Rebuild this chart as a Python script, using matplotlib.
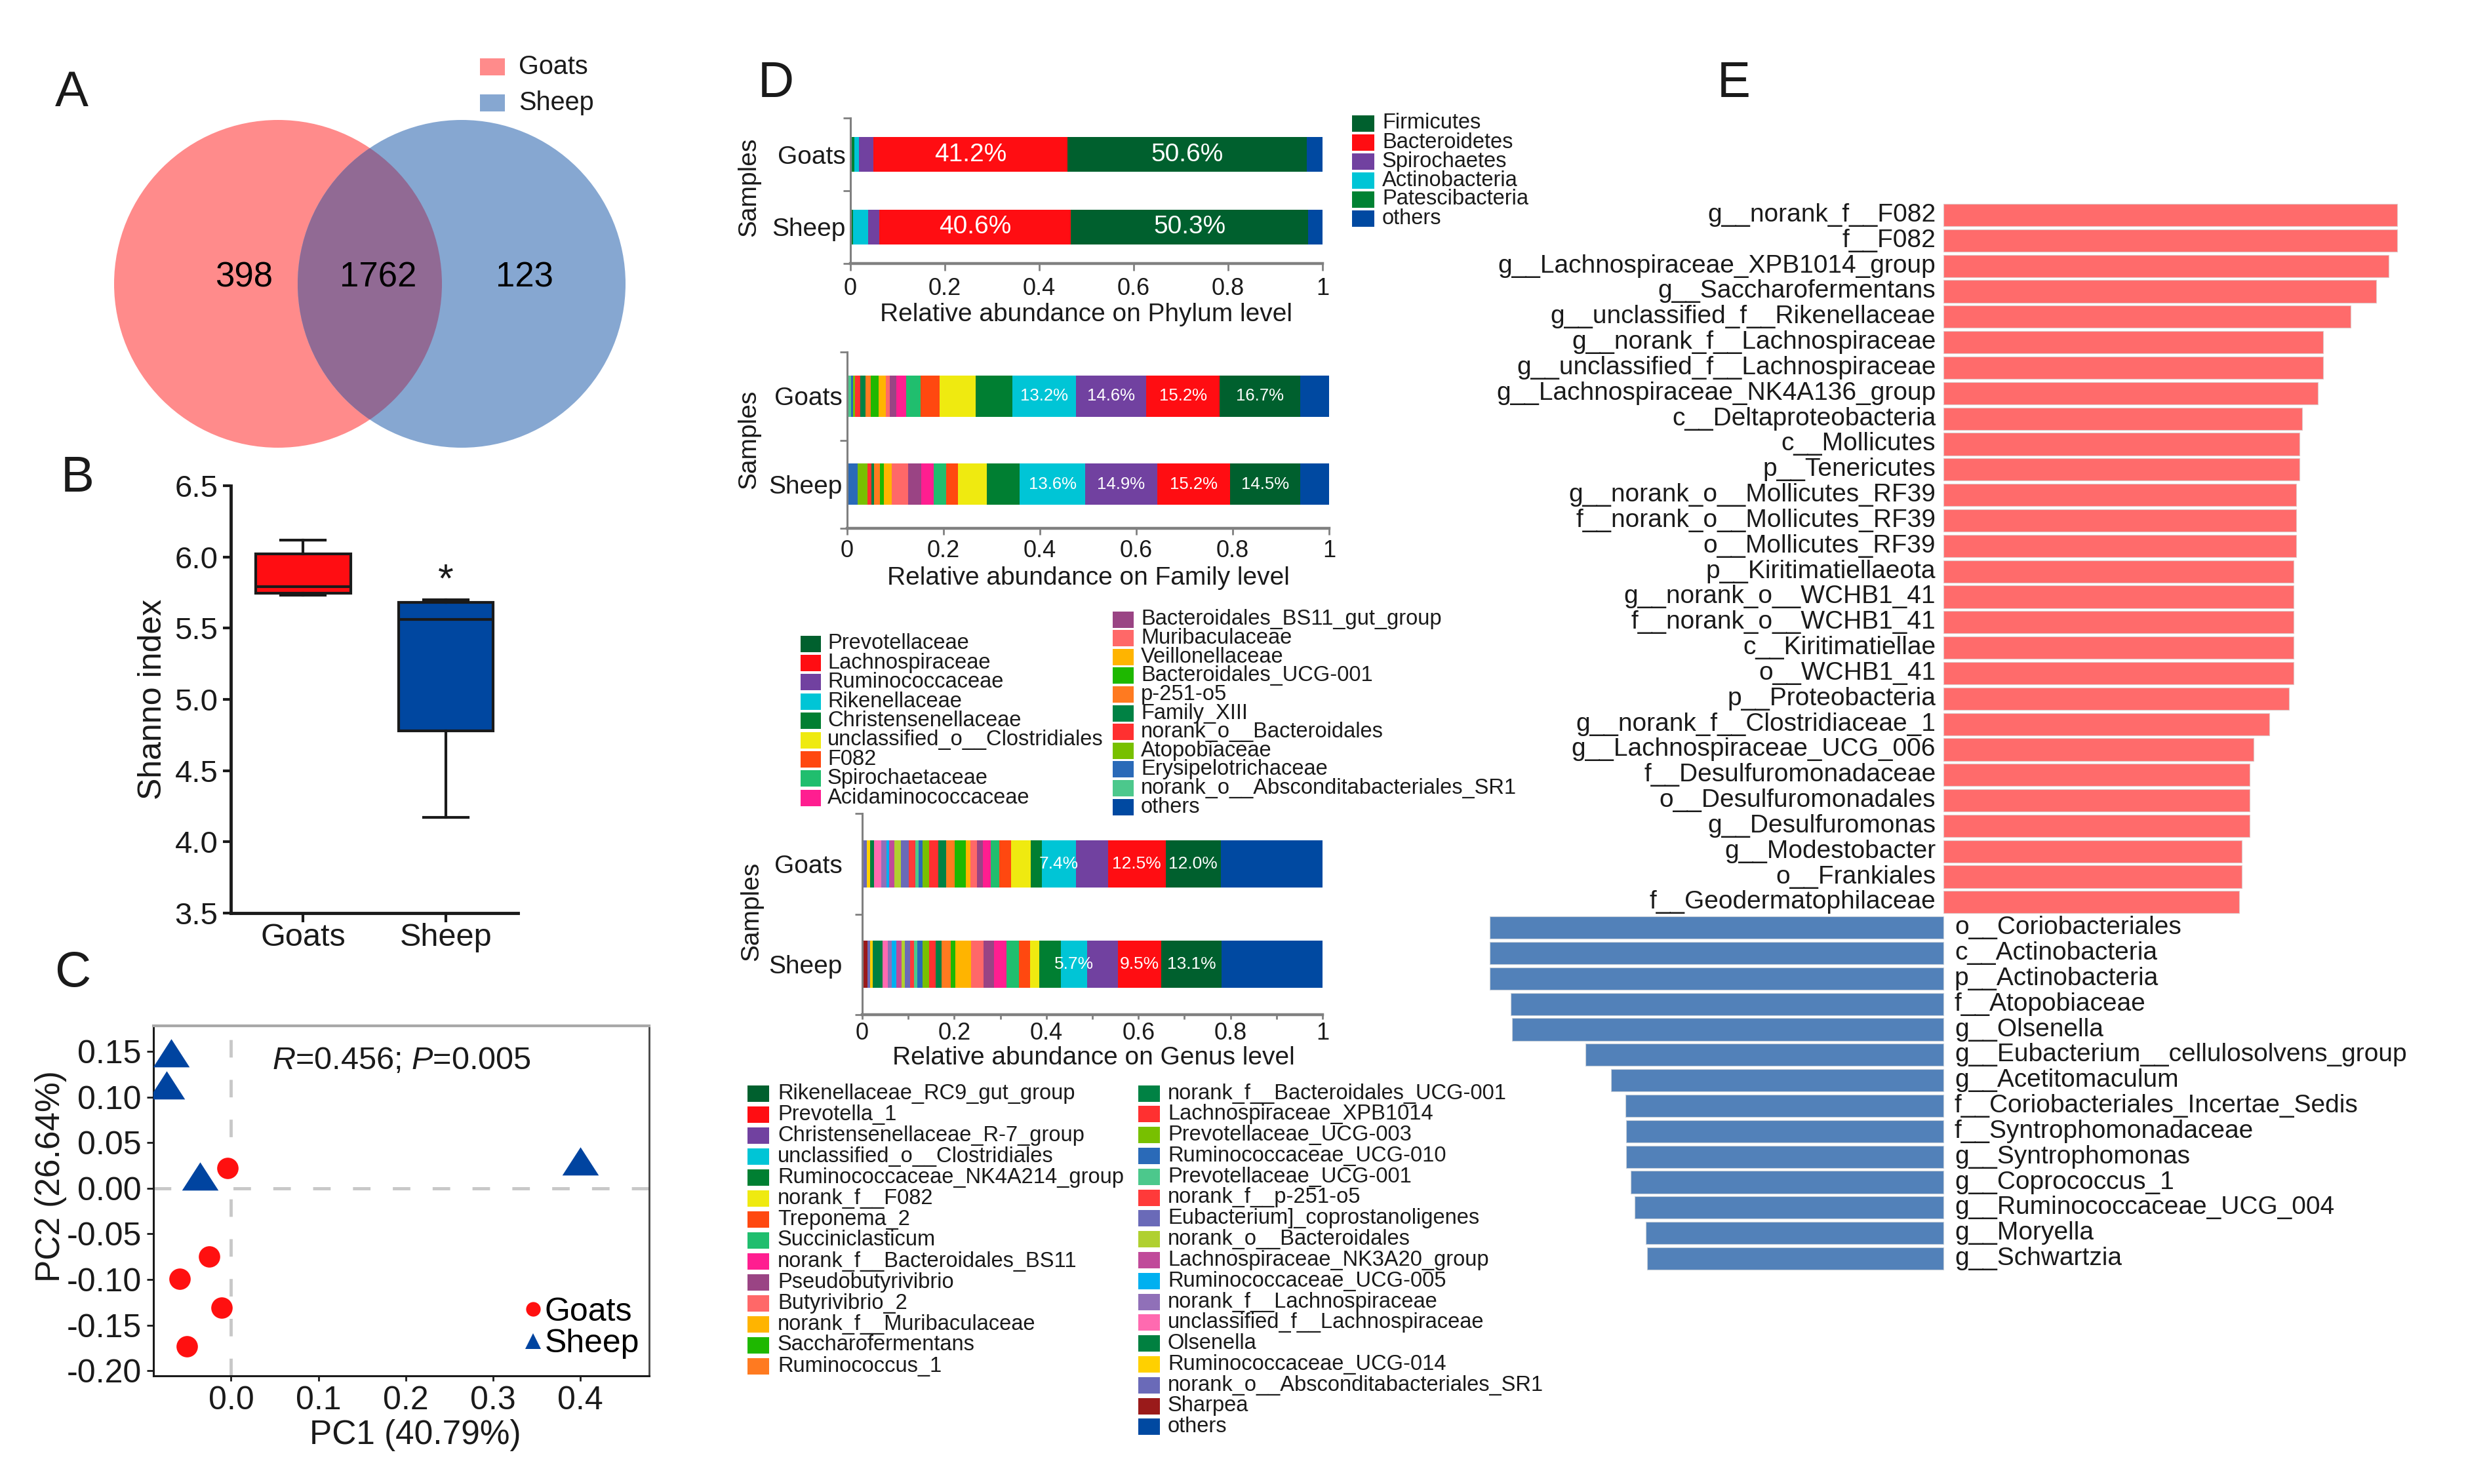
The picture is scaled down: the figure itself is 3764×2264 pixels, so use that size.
import matplotlib
matplotlib.use('Agg')
import matplotlib.pyplot as plt
import numpy as np
from matplotlib.patches import Circle, Rectangle
from matplotlib.lines import Line2D

plt.rcParams['font.family'] = ['Liberation Sans', 'DejaVu Sans']
plt.rcParams['mathtext.fontset'] = 'custom'
plt.rcParams['mathtext.rm'] = 'Liberation Sans'
plt.rcParams['mathtext.it'] = 'Liberation Sans:italic'

W, H = 3764, 2264
TXT = '#1a1a1a'

# ---------------- DATA ----------------
# A: Venn
venn_groups = ['Goats', 'Sheep']
venn_counts = [398, 1762, 123]          # goats only, shared, sheep only

# B: Shannon box plot
shannon_groups = ['Goats', 'Sheep']
shannon_whislo = [5.73, 4.17]
shannon_q1 = [5.745, 4.78]
shannon_med = [5.79, 5.56]
shannon_q3 = [6.02, 5.68]
shannon_whishi = [6.12, 5.70]
shannon_ticks = [3.5, 4.0, 4.5, 5.0, 5.5, 6.0, 6.5]

# C: PCoA
pcoa_goats_x = [-0.004, -0.025, -0.059, -0.011, -0.051]
pcoa_goats_y = [0.022, -0.075, -0.099, -0.131, -0.173]
pcoa_sheep_x = [-0.069, -0.074, -0.036, 0.400]
pcoa_sheep_y = [0.148, 0.113, 0.013, 0.029]
pc1_pct, pc2_pct = 40.79, 26.64
anosim_r, anosim_p = 0.456, 0.005
pcoa_xticks = [0.0, 0.1, 0.2, 0.3, 0.4]
pcoa_yticks = [-0.20, -0.15, -0.10, -0.05, 0.00, 0.05, 0.10, 0.15]

# D: relative abundance
samples = ['Sheep', 'Goats']  # bottom to top
phylum_names = ['Firmicutes', 'Bacteroidetes', 'Spirochaetes', 'Actinobacteria',
                'Patescibacteria', 'others']
phylum_colors = ['#00602E', '#FF0D12', '#7141A0', '#00C5D6', '#008233', '#0049A1']
phylum_goats = [0.506, 0.412, 0.030, 0.010, 0.008, 0.034]
phylum_sheep = [0.503, 0.406, 0.024, 0.032, 0.005, 0.030]
phylum_labeled = ['Firmicutes', 'Bacteroidetes']

family_names = ['Prevotellaceae', 'Lachnospiraceae', 'Ruminococcaceae', 'Rikenellaceae',
                'Christensenellaceae', 'unclassified_o__Clostridiales', 'F082',
                'Spirochaetaceae', 'Acidaminococcaceae', 'Bacteroidales_BS11_gut_group',
                'Muribaculaceae', 'Veillonellaceae', 'Bacteroidales_UCG-001', 'p-251-o5',
                'Family_XIII', 'norank_o__Bacteroidales', 'Atopobiaceae',
                'Erysipelotrichaceae', 'norank_o__Absconditabacteriales_SR1', 'others']
family_colors = ['#00602E', '#FF0D12', '#7141A0', '#00C5D6', '#007F32', '#EFEA10',
                 '#FF4810', '#20BE6E', '#FF1E90', '#9A4484', '#FF6868', '#FFB400',
                 '#1EB800', '#FF7A20', '#008244', '#FF3030', '#78C000', '#2A6AB8',
                 '#4CC88C', '#0049A1']
family_goats = [0.167, 0.152, 0.146, 0.132, 0.076, 0.075, 0.040, 0.029, 0.021, 0.014,
                0.008, 0.015, 0.016, 0.011, 0.011, 0.011, 0.004, 0.004, 0.008, 0.060]
family_sheep = [0.145, 0.152, 0.149, 0.136, 0.068, 0.060, 0.024, 0.026, 0.026, 0.028,
                0.033, 0.017, 0.008, 0.012, 0.006, 0.008, 0.020, 0.020, 0.002, 0.060]
family_labeled = ['Prevotellaceae', 'Lachnospiraceae', 'Ruminococcaceae', 'Rikenellaceae']

genus_names = ['Rikenellaceae_RC9_gut_group', 'Prevotella_1', 'Christensenellaceae_R-7_group',
               'unclassified_o__Clostridiales', 'Ruminococcaceae_NK4A214_group',
               'norank_f__F082', 'Treponema_2', 'Succiniclasticum',
               'norank_f__Bacteroidales_BS11', 'Pseudobutyrivibrio', 'Butyrivibrio_2',
               'norank_f__Muribaculaceae', 'Saccharofermentans', 'Ruminococcus_1',
               'norank_f__Bacteroidales_UCG-001', 'Lachnospiraceae_XPB1014',
               'Prevotellaceae_UCG-003', 'Ruminococcaceae_UCG-010', 'Prevotellaceae_UCG-001',
               'norank_f__p-251-o5', 'Eubacterium]_coprostanoligenes',
               'norank_o__Bacteroidales', 'Lachnospiraceae_NK3A20_group',
               'Ruminococcaceae_UCG-005', 'norank_f__Lachnospiraceae',
               'unclassified_f__Lachnospiraceae', 'Olsenella', 'Ruminococcaceae_UCG-014',
               'norank_o__Absconditabacteriales_SR1', 'Sharpea', 'others']
genus_colors = ['#00602E', '#FF0D12', '#7141A0', '#00C5D6', '#007F32', '#EFEA10',
                '#FF4810', '#20BE6E', '#FF1E90', '#9A4484', '#FF6868', '#FFB400',
                '#1EB800', '#FF7A20', '#008244', '#FF3030', '#78C000', '#2A6AB8',
                '#4CC88C', '#FF3A3A', '#6A6AB8', '#B0D030', '#C04A9A', '#00B0F0',
                '#9070B8', '#FF6AB0', '#008040', '#FFD000', '#6A6AB8', '#9A1A1A',
                '#0049A1']
genus_goats = [0.120, 0.125, 0.070, 0.074, 0.024, 0.042, 0.026, 0.019, 0.017, 0.013,
               0.014, 0.010, 0.024, 0.018, 0.018, 0.019, 0.015, 0.008, 0.007, 0.015,
               0.017, 0.014, 0.011, 0.007, 0.011, 0.015, 0.009, 0.007, 0.008, 0.002,
               0.221]
genus_sheep = [0.131, 0.095, 0.066, 0.057, 0.048, 0.020, 0.024, 0.026, 0.027, 0.024,
               0.027, 0.034, 0.010, 0.019, 0.014, 0.013, 0.015, 0.012, 0.007, 0.008,
               0.011, 0.007, 0.012, 0.010, 0.008, 0.012, 0.021, 0.006, 0.005, 0.012,
               0.219]
genus_labeled = ['Rikenellaceae_RC9_gut_group', 'Prevotella_1', 'unclassified_o__Clostridiales']
d_xticks = [0, 0.2, 0.4, 0.6, 0.8, 1]

# E: LEfSe
lefse_goats_names = ['g__norank_f__F082', 'f__F082', 'g__Lachnospiraceae_XPB1014_group',
                     'g__Saccharofermentans', 'g__unclassified_f__Rikenellaceae',
                     'g__norank_f__Lachnospiraceae', 'g__unclassified_f__Lachnospiraceae',
                     'g__Lachnospiraceae_NK4A136_group', 'c__Deltaproteobacteria',
                     'c__Mollicutes', 'p__Tenericutes', 'g__norank_o__Mollicutes_RF39',
                     'f__norank_o__Mollicutes_RF39', 'o__Mollicutes_RF39',
                     'p__Kiritimatiellaeota', 'g__norank_o__WCHB1_41',
                     'f__norank_o__WCHB1_41', 'c__Kiritimatiellae', 'o__WCHB1_41',
                     'p__Proteobacteria', 'g__norank_f__Clostridiaceae_1',
                     'g__Lachnospiraceae_UCG_006', 'f__Desulfuromonadaceae',
                     'o__Desulfuromonadales', 'g__Desulfuromonas', 'g__Modestobacter',
                     'o__Frankiales', 'f__Geodermatophilaceae']
lefse_goats_lda = [5.32, 5.32, 5.22, 5.08, 4.78, 4.45, 4.45, 4.39, 4.21, 4.18, 4.18, 4.14,
                   4.14, 4.14, 4.11, 4.11, 4.11, 4.11, 4.11, 4.05, 3.82, 3.64, 3.59, 3.59,
                   3.59, 3.50, 3.50, 3.47]
lefse_sheep_names = ['o__Coriobacteriales', 'c__Actinobacteria', 'p__Actinobacteria',
                     'f__Atopobiaceae', 'g__Olsenella', 'g__Eubacterium__cellulosolvens_group',
                     'g__Acetitomaculum', 'f__Coriobacteriales_Incertae_Sedis',
                     'f__Syntrophomonadaceae', 'g__Syntrophomonas', 'g__Coprococcus_1',
                     'g__Ruminococcaceae_UCG_004', 'g__Moryella', 'g__Schwartzia']
lefse_sheep_lda = [5.32, 5.32, 5.32, 5.08, 5.06, 4.20, 3.90, 3.73, 3.72, 3.72, 3.67, 3.62,
                   3.49, 3.48]

# ---------------- FIGURE ----------------
fig = plt.figure(figsize=(W / 100, H / 100), dpi=100)


def axes_px(l, t, r, b, **kw):
    return fig.add_axes([l / W, 1 - b / H, (r - l) / W, (b - t) / H], **kw)


ov = fig.add_axes([0, 0, 1, 1], zorder=5)
ov.set_xlim(0, W)
ov.set_ylim(H, 0)
ov.axis('off')

# panel letters
for letter, (x, y) in zip('ABCDE', [(109, 143), (118, 730), (111, 1485), (1183, 128), (2644, 128)]):
    ov.text(x, y, letter, fontsize=55, ha='center', va='center', color=TXT)

# ---------- A: Venn ----------
c1 = Circle((424, 433), 250, facecolor='#FF8B8B', edgecolor='none')
c2 = Circle((704, 433), 250, facecolor='#86A7D1', edgecolor='none')
c3 = Circle((704, 433), 250, facecolor='#916A94', edgecolor='none')
ov.add_patch(c1)
ov.add_patch(c2)
ov.add_patch(c3)
c3.set_clip_path(c1)
for cnt, x in zip(venn_counts, [372, 577, 800]):
    ov.text(x, 424, str(cnt), fontsize=38, ha='center', va='center', color='black')
for grp, col, y in zip(venn_groups, ['#FF8B8B', '#86A7D1'], [102, 157]):
    ov.add_patch(Rectangle((732, y - 13), 38, 26, facecolor=col, edgecolor='none'))
    ov.text(791, y, grp, fontsize=28.5, ha='left', va='center', color=TXT)

# ---------- B: Shannon ----------
axB = axes_px(352, 741, 790, 1393)
stats = []
for i in range(len(shannon_groups)):
    stats.append(dict(med=shannon_med[i], q1=shannon_q1[i], q3=shannon_q3[i],
                      whislo=shannon_whislo[i], whishi=shannon_whishi[i], fliers=[]))
bp = axB.bxp(stats, positions=[0, 1], widths=0.665, patch_artist=True, showfliers=False,
             capwidths=0.31,
             boxprops=dict(linewidth=3, edgecolor=TXT),
             medianprops=dict(color=TXT, linewidth=3),
             whiskerprops=dict(color=TXT, linewidth=3),
             capprops=dict(color=TXT, linewidth=3))
for patch, col in zip(bp['boxes'], ['#FF0D12', '#0047A0']):
    patch.set_facecolor(col)
axB.text(1, 5.83, '*', fontsize=44, ha='center', va='center', color=TXT)
axB.set_xlim(-0.505, 1.505)
axB.set_ylim(3.5, 6.5)
axB.set_yticks(shannon_ticks)
axB.set_yticklabels([f'{v:.1f}' for v in shannon_ticks])
axB.set_xticks([0, 1])
axB.set_xticklabels(shannon_groups)
for s in ['top', 'right']:
    axB.spines[s].set_visible(False)
for s in ['left', 'bottom']:
    axB.spines[s].set_linewidth(3.5)
    axB.spines[s].set_color(TXT)
axB.tick_params(axis='y', length=9, width=3, pad=5, labelsize=34, colors=TXT)
axB.tick_params(axis='x', length=10, width=3, pad=1, labelsize=35, colors=TXT)
axB.patch.set_alpha(0)
ov.text(233, 1067, 'Shanno index', fontsize=36, rotation=90, ha='center', va='center', color=TXT)

# ---------- C: PCoA ----------
axC = axes_px(234, 1565, 990, 2099)
axC.axhline(0, color='#C8C8C8', linewidth=3.5, dashes=(5.5, 7), zorder=1)
axC.axvline(0, color='#C8C8C8', linewidth=3.5, dashes=(5.5, 7), zorder=1)
tri = [(0, 0.8), (-1, -0.75), (1, -0.75)]
axC.plot(pcoa_goats_x, pcoa_goats_y, linestyle='none', marker='o', markersize=23.5,
         color='#FF1010', markeredgewidth=0, zorder=3)
axC.plot(pcoa_sheep_x, pcoa_sheep_y, linestyle='none', marker=tri, markersize=40,
         color='#0044A0', markeredgewidth=0, zorder=3)
axC.set_xlim(-0.089, 0.479)
axC.set_ylim(-0.2055, 0.178)
axC.set_xticks(pcoa_xticks)
axC.set_xticklabels([f'{v:.1f}' for v in pcoa_xticks])
axC.set_yticks(pcoa_yticks)
axC.set_yticklabels([f'{v:.2f}' for v in pcoa_yticks])
axC.tick_params(axis='both', labelsize=36, colors=TXT, width=2)
axC.tick_params(axis='y', length=7, pad=6)
axC.tick_params(axis='x', length=6, pad=5)
axC.spines['left'].set_color(TXT)
axC.spines['bottom'].set_color(TXT)
axC.spines['left'].set_linewidth(2.2)
axC.spines['bottom'].set_linewidth(2.2)
axC.spines['top'].set_color('#A8A8A8')
axC.spines['top'].set_linewidth(3)
axC.spines['right'].set_color('#444444')
axC.spines['right'].set_linewidth(2)
axC.text(0.5, 0.9, f'$R$={anosim_r:.3f}; $P$={anosim_p:.3f}', transform=axC.transAxes,
         fontsize=35, ha='center', va='center', color=TXT)
handles = [Line2D([], [], linestyle='none', marker='o', markersize=16, color='#FF1010',
                  markeredgewidth=0),
           Line2D([], [], linestyle='none', marker='^', markersize=17, color='#0044A0',
                  markeredgewidth=0)]
axC.legend(handles, ['Goats', 'Sheep'], loc='lower right', bbox_to_anchor=(1.0, 0.02),
           frameon=False, fontsize=36, handlelength=0.5, handletextpad=0.1,
           labelspacing=0.05, borderpad=0.1, borderaxespad=0.2)
ov.text(78, 1795, f'PC2 ({pc2_pct:.2f}%)', fontsize=37, rotation=90, ha='center',
        va='center', color=TXT)
ov.text(633, 2189, f'PC1 ({pc1_pct:.2f}%)', fontsize=37, ha='center', va='center', color=TXT)

# ---------- D: stacked bars ----------
GREY = '#808080'


def stacked(ax, names, colors, goats, sheep, labeled, fs):
    order = list(range(len(names) - 1))[::-1] + [len(names) - 1]
    for vals, yc in ((sheep, 0.5), (goats, 1.5)):
        left = 0.0
        for i in order:
            ax.barh(yc, vals[i], left=left, height=0.47, color=colors[i], linewidth=0)
            if names[i] in labeled:
                ax.text(left + vals[i] / 2, yc, f'{vals[i] * 100:.1f}%', ha='center',
                        va='center', color='white', fontsize=fs)
            left += vals[i]


def style_d(ax, ypad, xlen, xpad, minor01=False):
    ax.set_xlim(0, 1)
    ax.set_ylim(0, 2)
    ax.set_yticks([0.5, 1.5])
    ax.set_yticklabels(samples)
    ax.set_yticks([0, 1, 2], minor=True)
    ax.set_xticks(d_xticks)
    ax.set_xticklabels([f'{v:g}' for v in d_xticks])
    if minor01:
        ax.set_xticks(np.arange(0.1, 1.0, 0.2), minor=True)
    ax.tick_params(axis='y', which='major', length=0, pad=ypad, labelsize=28, colors=TXT)
    ax.tick_params(axis='y', which='minor', length=8, width=2, color=GREY)
    ax.tick_params(axis='x', which='both', length=xlen, width=2, color=GREY, pad=xpad,
                   labelsize=26, labelcolor=TXT)
    for s in ['top', 'right']:
        ax.spines[s].set_visible(False)
    ax.spines['left'].set_color(GREY)
    ax.spines['left'].set_linewidth(2.2)
    ax.spines['bottom'].set_color(GREY)
    ax.spines['bottom'].set_linewidth(3.2)
    ax.patch.set_alpha(0)


axP = axes_px(1297, 180, 2017, 402)
stacked(axP, phylum_names, phylum_colors, phylum_goats, phylum_sheep, phylum_labeled, 28)
style_d(axP, 5, 8, 7)
ov.text(1142, 285, 'Samples', fontsize=28, rotation=90, ha='center', va='center', color=TXT)
ov.text(1657, 480, 'Relative abundance on Phylum level', fontsize=28, ha='center',
        va='center', color=TXT)

axF = axes_px(1292, 537, 2027, 806)
stacked(axF, family_names, family_colors, family_goats, family_sheep, family_labeled, 18.5)
style_d(axF, 5, 7, 5)
ov.text(1142, 670, 'Samples', fontsize=28, rotation=90, ha='center', va='center', color=TXT)
ov.text(1660, 882, 'Relative abundance on Family level', fontsize=28, ha='center',
        va='center', color=TXT)

axG = axes_px(1315, 1241, 2017, 1548)
stacked(axG, genus_names, genus_colors, genus_goats, genus_sheep, genus_labeled, 19)
style_d(axG, 22, 5, 3, minor01=True)
ov.text(1146, 1390, 'Samples', fontsize=28, rotation=90, ha='center', va='center', color=TXT)
ov.text(1668, 1614, 'Relative abundance on Genus level', fontsize=28, ha='center',
        va='center', color=TXT)


def legend_px(names, colors, x_sq, y0, dy, w, h, tx, fs=23.5):
    for k, (nm, col) in enumerate(zip(names, colors)):
        y = y0 + dy * k
        ov.add_patch(Rectangle((x_sq, y - h / 2), w, h, facecolor=col, edgecolor='none'))
        ov.text(tx, y, nm, fontsize=fs, ha='left', va='center', color=TXT)


legend_px(phylum_names, phylum_colors, 2062, 188, 29, 34, 25, 2108)
legend_px(family_names[:9], family_colors[:9], 1221, 982, 29.4, 31, 25, 1262)
legend_px(family_names[9:], family_colors[9:], 1697, 945, 28.6, 32, 25, 1740)
legend_px(genus_names[:14], genus_colors[:14], 1140, 1668, 32, 33, 25, 1186)
legend_px(genus_names[14:], genus_colors[14:], 1736, 1668, 31.8, 33, 25, 1781)

# ---------- E: LEfSe ----------
axE = axes_px(2200, 300, 3700, 1950)
unit = 130.0
axE.set_xlim((2200 - 2964) / unit, (3700 - 2964) / unit)
axE.set_ylim((1950 - 328) / 38.83, (300 - 328) / 38.83)
axE.axis('off')
ng = len(lefse_goats_names)
yg = np.arange(ng)
ys = np.arange(ng, ng + len(lefse_sheep_names))
axE.barh(yg, lefse_goats_lda, height=0.88, color='#FF6B6B', edgecolor='#E0C8C8', linewidth=0.8)
axE.barh(ys, [-v for v in lefse_sheep_lda], height=0.88, color='#5281B9',
         edgecolor='#C8D0DA', linewidth=0.8)
for y, nm in zip(yg, lefse_goats_names):
    axE.text(-0.09, y, nm, ha='right', va='center', fontsize=28, color=TXT)
for y, nm in zip(ys, lefse_sheep_names):
    axE.text(0.13, y, nm, ha='left', va='center', fontsize=28, color=TXT)

fig.savefig('out.png', dpi=100, facecolor='white')
